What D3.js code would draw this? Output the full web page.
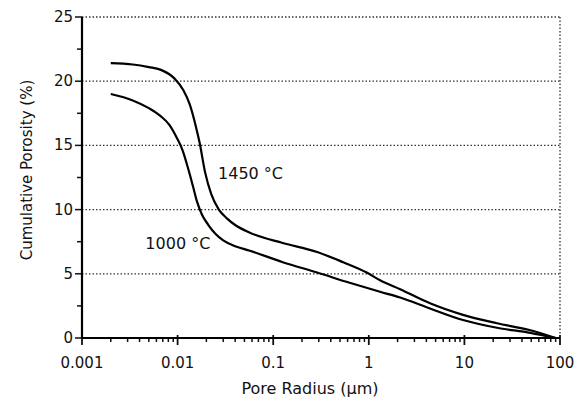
<!DOCTYPE html>
<html>
<head>
<meta charset="utf-8">
<script src="https://cdn.jsdelivr.net/npm/d3@7"></script>
<style>
  body { margin: 0; background: #fff; }
  text { font-family: "DejaVu Sans", Verdana, sans-serif; fill: #111; }
</style>
</head>
<body>
<svg id="chart" width="584" height="400"></svg>
<script>
// pore radius (µm) vs cumulative porosity (%)
var curve1450 = [
  [0.002, 21.4], [0.0034, 21.3], [0.005, 21.1], [0.0066, 20.9], [0.0093, 20.2],
  [0.0115, 19.3], [0.0134, 18.2], [0.0155, 16.5], [0.017, 15.2], [0.0194, 12.9],
  [0.0225, 11.2], [0.027, 10.0], [0.033, 9.3], [0.04, 8.8], [0.057, 8.2],
  [0.126, 7.4], [0.288, 6.7], [0.54, 5.9], [0.95, 5.1], [1.31, 4.5],
  [2.13, 3.8], [4.37, 2.7], [9.66, 1.8], [21.9, 1.15], [49, 0.6], [90, 0]
];
var curve1000 = [
  [0.002, 19.0], [0.0034, 18.5], [0.005, 17.9], [0.0066, 17.3], [0.0082, 16.6],
  [0.0098, 15.6], [0.0113, 14.6], [0.013, 13.1], [0.0145, 11.8], [0.016, 10.6],
  [0.018, 9.6], [0.021, 8.8], [0.025, 8.1], [0.03, 7.6], [0.04, 7.15],
  [0.057, 6.8], [0.126, 5.9], [0.288, 5.1], [0.63, 4.3], [1.31, 3.6],
  [2.13, 3.15], [4.37, 2.3], [9.66, 1.4], [21.9, 0.8], [49, 0.4], [90, 0]
];
var xTicks = [0.001, 0.01, 0.1, 1, 10, 100];
var xTickLabels = ["0.001", "0.01", "0.1", "1", "10", "100"];
var yTicks = [0, 5, 10, 15, 20, 25];
var yMinor = [2.5, 7.5, 12.5, 17.5, 22.5];
var seriesLabels = [
  { text: "1450 °C", x: 0.0265, y: 12.4 },
  { text: "1000 °C", x: 0.0046, y: 6.9 }
];

var svg = d3.select("#chart");
var mLeft = 82, mRight = 560, mTop = 17, mBottom = 338;

var x = d3.scaleLog().domain([0.001, 100]).range([mLeft, mRight]);
var y = d3.scaleLinear().domain([0, 25]).range([mBottom, mTop]);

// dotted grid
svg.append("g").selectAll("line")
  .data(yTicks.slice(1))
  .join("line")
    .attr("x1", mLeft).attr("x2", mRight)
    .attr("y1", d => y(d)).attr("y2", d => y(d))
    .attr("stroke", "#333")
    .attr("stroke-width", 1.3)
    .attr("stroke-dasharray", "1.5,2");

svg.append("line")
  .attr("x1", mRight).attr("x2", mRight)
  .attr("y1", mTop).attr("y2", mBottom)
  .attr("stroke", "#333")
  .attr("stroke-width", 1.3)
  .attr("stroke-dasharray", "1.5,2");

// minor ticks on x
var minor = [];
xTicks.slice(0, -1).forEach(function(d) {
  for (var k = 2; k < 10; k++) minor.push(d * k);
});

svg.append("g").selectAll("line")
  .data(minor)
  .join("line")
    .attr("x1", d => x(d)).attr("x2", d => x(d))
    .attr("y1", mBottom).attr("y2", mBottom + 4)
    .attr("stroke", "#111").attr("stroke-width", 1.5);

svg.append("g").selectAll("line")
  .data(xTicks)
  .join("line")
    .attr("x1", d => x(d)).attr("x2", d => x(d))
    .attr("y1", mBottom - 3).attr("y2", mBottom + 7)
    .attr("stroke", "#111").attr("stroke-width", 1.8);

svg.append("g").selectAll("text")
  .data(xTicks)
  .join("text")
    .attr("x", d => x(d))
    .attr("y", mBottom + 30)
    .attr("text-anchor", "middle")
    .attr("font-size", 15)
    .text((d, i) => xTickLabels[i]);

// y ticks
svg.append("g").selectAll("line")
  .data(yMinor)
  .join("line")
    .attr("x1", mLeft - 5).attr("x2", mLeft)
    .attr("y1", d => y(d)).attr("y2", d => y(d))
    .attr("stroke", "#111").attr("stroke-width", 1.5);

svg.append("g").selectAll("line")
  .data(yTicks)
  .join("line")
    .attr("x1", mLeft - 7).attr("x2", mLeft)
    .attr("y1", d => y(d)).attr("y2", d => y(d))
    .attr("stroke", "#111").attr("stroke-width", 1.5);

svg.append("g").selectAll("text")
  .data(yTicks)
  .join("text")
    .attr("x", mLeft - 9)
    .attr("y", d => y(d) + 5)
    .attr("text-anchor", "end")
    .attr("font-size", 15)
    .text(d => d);

// axis lines
svg.append("line")
  .attr("x1", mLeft).attr("x2", mLeft)
  .attr("y1", mTop).attr("y2", mBottom + 1)
  .attr("stroke", "#000").attr("stroke-width", 2.2);
svg.append("line")
  .attr("x1", mLeft).attr("x2", mRight)
  .attr("y1", mBottom).attr("y2", mBottom)
  .attr("stroke", "#000").attr("stroke-width", 2);

// curves
var line = d3.line()
  .x(d => x(d[0]))
  .y(d => y(d[1]))
  .curve(d3.curveMonotoneX);

[curve1450, curve1000].forEach(function(c) {
  svg.append("path")
    .datum(c)
    .attr("d", line)
    .attr("fill", "none")
    .attr("stroke", "#000")
    .attr("stroke-width", 2.2);
});

svg.append("g").selectAll("text")
  .data(seriesLabels)
  .join("text")
    .attr("x", d => x(d.x))
    .attr("y", d => y(d.y))
    .attr("font-size", 16)
    .text(d => d.text);

// axis titles
svg.append("text")
  .attr("x", 310)
  .attr("y", 394)
  .attr("text-anchor", "middle")
  .attr("font-size", 16)
  .text("Pore Radius (µm)");

svg.append("text")
  .attr("transform", "translate(32,170) rotate(-90)")
  .attr("text-anchor", "middle")
  .attr("font-size", 15)
  .text("Cumulative Porosity (%)");
</script>
</body>
</html>
